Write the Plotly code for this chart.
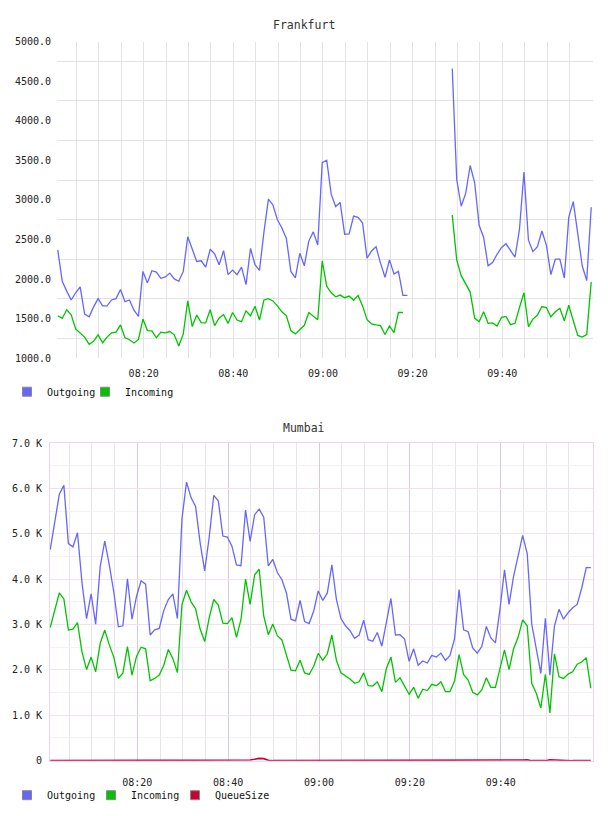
import plotly.graph_objects as go
from datetime import datetime, timedelta

# ---------------- data ----------------
start_time = datetime(2024, 1, 1, 8, 0, 50)
n_points = 120
times = [start_time + timedelta(minutes=i) for i in range(n_points)]

fra_outgoing = [
    2367, 1972, 1847, 1735, 1826, 1901, 1557, 1523, 1648, 1752,
    1660, 1660, 1735, 1752, 1868, 1714, 1735, 1606, 1527, 2096,
    1951, 2105, 2088, 2009, 2026, 2075, 2001, 1972, 2096, 2533,
    2379, 2221, 2230, 2150, 2375, 2317, 2180, 2358, 2055, 2113,
    2055, 2150, 1930, 2387, 2180, 2109, 2595, 3010, 2935, 2748,
    2645, 2512, 2096, 2013, 2325, 2167, 2479, 2595, 2429, 3470,
    3500, 3072, 2915, 2965, 2566, 2570, 2794, 2778, 2707, 2262,
    2354, 2408, 2200, 2022, 2242, 2063, 2096, 1793, 1793, None,
    None, None, None, None, None, None, None, None, 4659, 3259,
    2919, 3081, 3434, 3218, 2678, 2524, 2167, 2209, 2312, 2399,
    2445, 2358, 2275, 2628, 3351, 2491, 2346, 2408, 2607, 2429,
    2055, 2250, 2250, 2013, 2782, 2977, 2582, 2167, 1980, 2906,
]
fra_incoming = [
    1536, 1502, 1611, 1548, 1370, 1316, 1266, 1174, 1212, 1295,
    1195, 1266, 1320, 1328, 1420, 1258, 1233, 1191, 1237, 1494,
    1349, 1345, 1258, 1328, 1320, 1336, 1295, 1154, 1307, 1723,
    1399, 1544, 1449, 1445, 1611, 1411, 1507, 1548, 1440, 1577,
    1482, 1461, 1598, 1536, 1656, 1482, 1735, 1752, 1723, 1660,
    1586, 1536, 1349, 1307, 1361, 1415, 1577, 1536, 1486, 2230,
    1910, 1826, 1776, 1797, 1764, 1784, 1731, 1793, 1660, 1486,
    1432, 1420, 1411, 1299, 1407, 1324, 1577, 1577, None, None,
    None, None, None, None, None, None, None, None, 2807, 2242,
    2042, 1943, 1835, 1507, 1461, 1586, 1440, 1445, 1407, 1515,
    1527, 1424, 1440, 1640, 1826, 1399, 1494, 1544, 1652, 1640,
    1523, 1586, 1631, 1473, 1669, 1473, 1287, 1266, 1299, 1963,
]

mum_outgoing = [
    4653, 5291, 5870, 6066, 4783, 4711, 5022, 3913, 3131, 3674,
    3009, 4276, 4841, 4313, 3711, 2950, 2972, 4008, 3117, 3624,
    3965, 3891, 2769, 2885, 2913, 3313, 3552, 3674, 3131, 5326,
    6139, 5798, 5602, 4798, 4182, 4928, 5848, 5726, 4950, 4928,
    4726, 4313, 4298, 5522, 4834, 5421, 5544, 5363, 4291, 4435,
    4146, 3987, 3696, 3117, 3081, 3530, 3065, 3022, 3298, 3740,
    3530, 3696, 4313, 3552, 3131, 2972, 2863, 2696, 2769, 3095,
    2667, 2631, 2826, 2522, 3030, 3574, 2769, 2776, 2682, 2189,
    2465, 2102, 2196, 2152, 2320, 2283, 2370, 2211, 2320, 2682,
    3770, 2885, 2841, 2487, 2370, 2515, 2957, 2704, 2596, 3335,
    4204, 3443, 4059, 4494, 4965, 4565, 3009, 2465, 1922, 3139,
    1885, 2972, 3335, 3117, 3261, 3370, 3443, 3805, 4255, 4255,
]
mum_incoming = [
    2935, 3320, 3696, 3565, 2878, 2900, 3044, 2391, 2008, 2283,
    1957, 2587, 2878, 2552, 2283, 1813, 1935, 2515, 1885, 2298,
    2500, 2465, 1761, 1813, 1885, 2102, 2450, 2248, 1943, 3443,
    3754, 3500, 3348, 2900, 2624, 3152, 3552, 3428, 3030, 3022,
    3152, 2718, 3117, 4000, 3443, 4096, 4218, 3189, 2776, 3009,
    2754, 2661, 2335, 1994, 1979, 2211, 1935, 1900, 2080, 2363,
    2211, 2356, 2769, 2211, 1935, 1870, 1798, 1704, 1739, 1935,
    1652, 1645, 1739, 1522, 2030, 2283, 1726, 1826, 1652, 1465,
    1617, 1378, 1574, 1544, 1683, 1652, 1739, 1522, 1522, 1754,
    2335, 1900, 1776, 1509, 1450, 1559, 1826, 1617, 1617, 2065,
    2443, 2008, 2465, 2718, 3102, 2972, 1704, 1487, 1161, 1900,
    1052, 2356, 1848, 1813, 1907, 1957, 2124, 2174, 2270, 1596,
]
mum_queue = [
    0, 0, 0, 0, 0, 0, 0, 0, 0, 0,
    0, 0, 0, 0, 0, 0, 0, 0, 0, 0,
    0, 0, 0, 0, 0, 0, 0, 0, 0, 0,
    0, 0, 0, 0, 0, 0, 0, 0, 0, 0,
    0, 0, 0, 5, 15, 30, 50, 45, 10, 0,
    0, 0, 0, 0, 0, 0, 0, 0, 0, 0,
    0, 0, 0, 0, 0, 0, 0, 0, 0, 0,
    0, 0, 0, 0, 0, 0, 0, 0, 0, 0,
    0, 0, 0, 0, 0, 0, 0, 0, 0, 0,
    0, 0, 0, 0, 0, 0, 0, 0, 0, 0,
    0, 0, 0, 0, 15, 20, 0, 0, 0, 0,
    20, 15, 0, 0, 0, 0, 0, 0, 0, 0,
]

fra_y_ticks = [1000, 1500, 2000, 2500, 3000, 3500, 4000, 4500, 5000]
fra_y_labels = ["1000.0", "1500.0", "2000.0", "2500.0", "3000.0",
                "3500.0", "4000.0", "4500.0", "5000.0"]
mum_y_ticks = [0, 1000, 2000, 3000, 4000, 5000, 6000, 7000]
mum_y_labels = ["0", "1.0 K", "2.0 K", "3.0 K", "4.0 K", "5.0 K", "6.0 K", "7.0 K"]
x_label_times = ["08:20", "08:40", "09:00", "09:20", "09:40"]

# ---------------- styling ----------------
W, H = 608, 816
BLUE = "#6666ff"
GREEN = "#00c400"
RED = "#cc0033"
MONO = "DejaVu Sans Mono"
TXT = "#222222"

day = "2024-01-01 "
major_x = [day + t + ":00" for t in x_label_times]
minor_x = [(datetime(2024, 1, 1, 8, 5) + timedelta(minutes=5 * k)).strftime("%Y-%m-%d %H:%M:%S")
           for k in range(23)]


def px_x(p):
    return p / W


def px_y(p):
    return 1 - p / H


fig = go.Figure()

# Frankfurt
fig.add_trace(go.Scatter(x=times, y=fra_outgoing, mode="lines", name="Outgoing",
                         line=dict(color=BLUE, width=1.3), xaxis="x", yaxis="y",
                         showlegend=False, connectgaps=False))
fig.add_trace(go.Scatter(x=times, y=fra_incoming, mode="lines", name="Incoming",
                         line=dict(color=GREEN, width=1.3), xaxis="x", yaxis="y",
                         showlegend=False, connectgaps=False))
# Mumbai
fig.add_trace(go.Scatter(x=times, y=mum_outgoing, mode="lines", name="Outgoing",
                         line=dict(color=BLUE, width=1.3), xaxis="x2", yaxis="y2",
                         showlegend=False))
fig.add_trace(go.Scatter(x=times, y=mum_incoming, mode="lines", name="Incoming",
                         line=dict(color=GREEN, width=1.3), xaxis="x2", yaxis="y2",
                         showlegend=False))
fig.add_trace(go.Scatter(x=times, y=mum_queue, mode="lines", name="QueueSize",
                         line=dict(color=RED, width=1.6), xaxis="x2", yaxis="y2",
                         showlegend=False, cliponaxis=False))


def legend_entry(name, color, legend, xa, ya, width):
    fig.add_trace(go.Scatter(x=[None], y=[None], mode="markers", name=name,
                             marker=dict(symbol="square", size=9, color=color,
                                         line=dict(color="#888888", width=1)),
                             xaxis=xa, yaxis=ya, legend=legend, showlegend=True,
                             legendwidth=width))


legend_entry("Outgoing", BLUE, "legend", "x", "y", 33)
legend_entry("Incoming", GREEN, "legend", "x", "y", 60)
legend_entry("Outgoing", BLUE, "legend2", "x2", "y2", 39)
legend_entry("Incoming", GREEN, "legend2", "x2", "y2", 39)
legend_entry("QueueSize", RED, "legend2", "x2", "y2", 66)

tickfont = dict(family=MONO, size=10, color=TXT)

fig.update_layout(
    width=W, height=H,
    margin=dict(l=0, r=0, t=0, b=0),
    paper_bgcolor="white", plot_bgcolor="white",
    xaxis=dict(
        domain=[px_x(57), px_x(593)], anchor="y", type="date",
        range=["2024-01-01 08:00:40", "2024-01-01 10:00:14"],
        tickmode="array", tickvals=major_x, tickformat="%H:%M",
        showgrid=True, gridcolor="#e3e3e3", gridwidth=1,
        minor=dict(tickmode="array", tickvals=minor_x, showgrid=True,
                   gridcolor="#e3e3e3", ticks=""),
        ticks="", showline=False, zeroline=False, tickfont=tickfont,
        ticklabelstandoff=8,
    ),
    yaxis=dict(
        domain=[px_y(358), px_y(37)], anchor="x",
        range=[1000, 5000], tickmode="array",
        tickvals=fra_y_ticks, ticktext=fra_y_labels,
        showgrid=False,
        minor=dict(tickmode="array", tickvals=[1250, 1750, 2250, 2750, 3250, 3750, 4250, 4750],
                   showgrid=True, gridcolor="#e3e3e3", ticks=""),
        ticks="", showline=False, zeroline=False, tickfont=tickfont,
        ticklabelstandoff=5,
    ),
    xaxis2=dict(
        domain=[px_x(50), px_x(593)], anchor="y2", type="date",
        range=["2024-01-01 08:00:47", "2024-01-01 10:00:19"],
        tickmode="array", tickvals=major_x, tickformat="%H:%M",
        showgrid=True, gridcolor="#dcc8dc", gridwidth=1,
        minor=dict(tickmode="array", tickvals=minor_x, showgrid=True,
                   gridcolor="#ebe3eb", ticks=""),
        ticks="", showline=True, linecolor="#ecd6ec", mirror=True,
        zeroline=False, tickfont=tickfont, ticklabelstandoff=12,
    ),
    yaxis2=dict(
        domain=[px_y(766), px_y(444)], anchor="x2",
        range=[0, 7000], tickmode="array",
        tickvals=mum_y_ticks, ticktext=mum_y_labels,
        showgrid=True, gridcolor="#f1e2f1",
        minor=dict(tickmode="array", tickvals=[500, 1500, 2500, 3500, 4500, 5500, 6500],
                   showgrid=True, gridcolor="#f3f1f3", ticks=""),
        ticks="", showline=True, linecolor="#ecd6ec", mirror=True,
        zeroline=False, tickfont=tickfont, ticklabelstandoff=5,
    ),
    legend=dict(orientation="h", x=px_x(7), y=px_y(392), xanchor="left", yanchor="middle",
                font=dict(family=MONO, size=10, color="#111111"),
                bgcolor="rgba(0,0,0,0)", itemclick=False, itemdoubleclick=False),
    legend2=dict(orientation="h", x=px_x(7), y=px_y(801), xanchor="left", yanchor="middle",
                 font=dict(family=MONO, size=10, color="#111111"),
                 bgcolor="rgba(0,0,0,0)", itemclick=False, itemdoubleclick=False),
    annotations=[
        dict(text="Frankfurt", x=px_x(304), y=px_y(20), xref="paper", yref="paper",
             showarrow=False, xanchor="center", yanchor="middle",
             font=dict(family=MONO, size=11.5, color="#333333")),
        dict(text="Mumbai", x=px_x(304), y=px_y(429), xref="paper", yref="paper",
             showarrow=False, xanchor="center", yanchor="middle",
             font=dict(family=MONO, size=11.5, color="#333333")),
    ],
    hovermode=False,
)

fig.write_html("out.html")
